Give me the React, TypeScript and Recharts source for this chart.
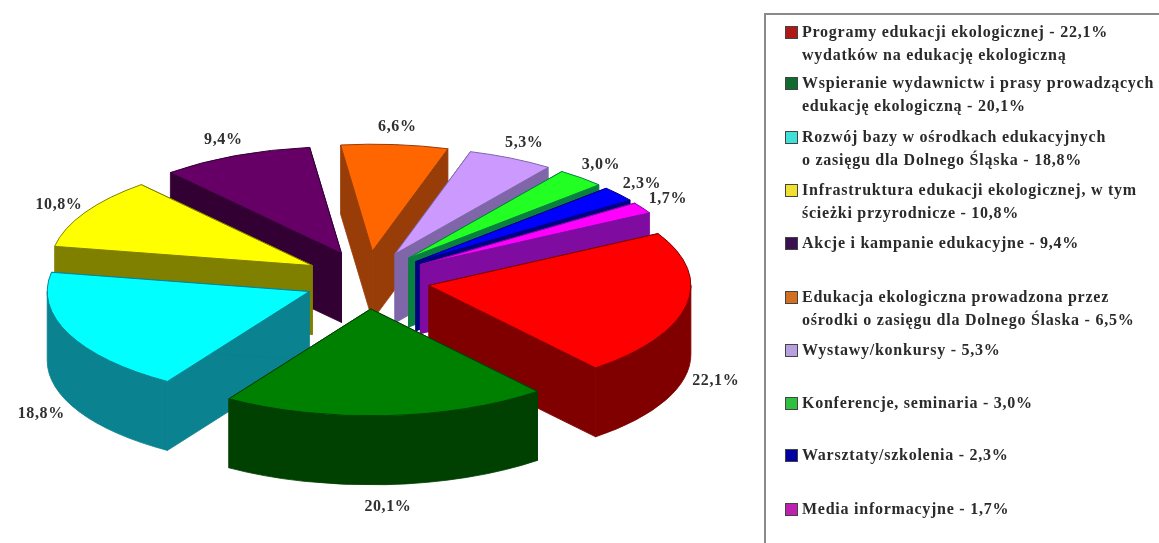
import React from "react";
import { PieChart, Pie, Legend } from "recharts";

const categories = [
  "Programy edukacji ekologicznej",
  "Wspieranie wydawnictw i prasy",
  "Rozwój bazy w ośrodkach edukacyjnych",
  "Infrastruktura edukacji ekologicznej",
  "Akcje i kampanie edukacyjne",
  "Edukacja ekologiczna prowadzona przez ośrodki",
  "Wystawy/konkursy",
  "Konferencje, seminaria",
  "Warsztaty/szkolenia",
  "Media informacyjne",
];
const values = [22.1, 20.1, 18.8, 10.8, 9.4, 6.6, 5.3, 3.0, 2.3, 1.7];
const valueLabels = ["22,1%", "20,1%", "18,8%", "10,8%", "9,4%", "6,6%", "5,3%", "3,0%", "2,3%", "1,7%"];
const topColors = ["#FF0000", "#008000", "#00FFFF", "#FFFF00", "#660066", "#FF6600", "#CC99FF", "#22FF22", "#0000FF", "#FF00FF"];
const sideColors = ["#800000", "#004000", "#0A8290", "#808000", "#330033", "#983C08", "#7F66A8", "#0A8040", "#000080", "#7F0BA0"];
const swatchColors = ["#B01818", "#0F6B30", "#40E0D8", "#F0E030", "#3A1050", "#D07020", "#B8A0E0", "#30C040", "#0000A0", "#C020B0"];
const legendLines = [
  ["Programy edukacji ekologicznej - 22,1%", "wydatków na edukację ekologiczną"],
  ["Wspieranie wydawnictw i prasy prowadzących", "edukację ekologiczną - 20,1%"],
  ["Rozwój bazy w ośrodkach edukacyjnych", "o zasięgu dla Dolnego Śląska - 18,8%"],
  ["Infrastruktura edukacji ekologicznej, w tym", "ścieżki przyrodnicze - 10,8%"],
  ["Akcje i kampanie edukacyjne - 9,4%"],
  ["Edukacja ekologiczna prowadzona przez", "ośrodki o zasięgu dla Dolnego Ślaska - 6,5%"],
  ["Wystawy/konkursy - 5,3%"],
  ["Konferencje, seminaria - 3,0%"],
  ["Warsztaty/szkolenia - 2,3%"],
  ["Media informacyjne - 1,7%"],
];

const table = categories.map((name, i) => ({ name, value: values[i], label: valueLabels[i] }));

// Layout / style constants
const FONT = '"Liberation Serif", serif';
const drawOrder = [5, 4, 6, 7, 8, 9, 3, 0, 2, 1];
const legendTops = [32, 83, 137, 190, 243, 297, 350, 403, 455, 509];
const SQUASH = 0.408;
const DEPTH = 69;
const EXPLODE_X = 63;
const EXPLODE_Y = 29;
const rad = (a: number) => (a * Math.PI) / 180;

function makeShape(target: number) {
  return function Wedge(props: any) {
    const { cx, cy, outerRadius, startAngle, endAngle, midAngle, index } = props;
    if (index !== target) return <g />;
    const rx = outerRadius;
    const ry = outerRadius * SQUASH;
    const mid = midAngle ?? (startAngle + endAngle) / 2;
    const ax = cx + EXPLODE_X * Math.cos(rad(mid));
    const ay = cy - EXPLODE_Y * Math.sin(rad(mid));
    const pt = (a: number, d = 0) => [ax + rx * Math.cos(rad(a)), ay - ry * Math.sin(rad(a)) + d];
    const P = (p: number[]) => `${p[0].toFixed(2)} ${p[1].toFixed(2)}`;
    const hi = Math.max(startAngle, endAngle);
    const lo = Math.min(startAngle, endAngle);
    const s = pt(hi);
    const e = pt(lo);
    const large = hi - lo > 180 ? 1 : 0;
    const top = `M${ax} ${ay} L${P(s)} A${rx} ${ry} 0 ${large} 1 ${P(e)} Z`;
    const faces: string[] = [];
    faces.push(`M${ax} ${ay} L${P(s)} L${P(pt(hi, DEPTH))} L${ax} ${ay + DEPTH} Z`);
    faces.push(`M${ax} ${ay} L${P(e)} L${P(pt(lo, DEPTH))} L${ax} ${ay + DEPTH} Z`);
    // outer rim: only the part of the arc facing the viewer (lower half of the ellipse)
    for (const k of [0, -360]) {
      const a1 = Math.min(hi, k);
      const a2 = Math.max(lo, k - 180);
      if (a1 > a2) {
        faces.push(
          `M${P(pt(a1))} A${rx} ${ry} 0 0 1 ${P(pt(a2))} L${P(pt(a2, DEPTH))} A${rx} ${ry} 0 0 0 ${P(pt(a1, DEPTH))} Z`
        );
      }
    }
    // label beside the rim, below the wall for front slices
    const rim = pt(mid);
    const sinM = Math.sin(rad(mid));
    const lx = rim[0] + 30 * Math.cos(rad(mid));
    const ly = rim[1] - 19 * sinM + (sinM < 0 ? DEPTH + 2 : 0);
    const side = sideColors[index];
    return (
      <g>
        {faces.map((d, i) => (
          <path key={i} d={d} fill={side} stroke={side} strokeWidth={0.8} strokeLinejoin="round" />
        ))}
        <path d={top} fill={topColors[index]} stroke={side} strokeWidth={1} strokeLinejoin="round" />
        <text
          x={lx}
          y={ly}
          dy="0.35em"
          textAnchor="middle"
          fontFamily={FONT}
          fontWeight="bold"
          fontSize={16}
          letterSpacing={0.6}
          fill="#303030"
        >
          {props.payload?.label ?? valueLabels[index]}
        </text>
      </g>
    );
  };
}

function LegendBox() {
  return (
    <div style={{ position: "absolute", left: 764, top: 13, width: 420, height: 560, border: "2px solid #8a8a8a", boxSizing: "border-box", background: "#fff" }}>
      {legendLines.map((lines, i) => (
        <div key={i} style={{ position: "absolute", left: 0, top: legendTops[i] - 28, whiteSpace: "nowrap" }}>
          <span style={{ position: "absolute", left: 19, top: 7, width: 11, height: 11, background: swatchColors[i], border: "1px solid #444" }} />
          {lines.map((t, j) => (
            <div
              key={j}
              style={{
                position: "absolute",
                left: 36,
                top: j * 22.5,
                fontFamily: FONT,
                fontWeight: "bold",
                fontSize: 16,
                lineHeight: "26px",
                letterSpacing: 0.75,
                color: "#2a2a2a",
              }}
            >
              {t}
            </div>
          ))}
        </div>
      ))}
    </div>
  );
}

export default function App() {
  return (
    <div style={{ position: "absolute", left: 0, top: 0, width: 1159, height: 543, overflow: "hidden", background: "#fff", filter: "blur(0.5px)" }}>
      <PieChart width={1159} height={543} margin={{ top: 0, right: 0, bottom: 0, left: 0 }}>
        {drawOrder.map((k) => (
          <Pie
            key={k}
            data={table}
            dataKey="value"
            nameKey="name"
            cx={367}
            cy={280}
            innerRadius={0}
            outerRadius={262}
            startAngle={29}
            endAngle={-331}
            stroke="none"
            isAnimationActive={false}
            shape={makeShape(k)}
            legendType="none"
          />
        ))}
        <Legend content={() => <LegendBox />} wrapperStyle={{ position: "absolute", left: 0, top: 0, width: 0, height: 0 }} />
      </PieChart>
    </div>
  );
}
